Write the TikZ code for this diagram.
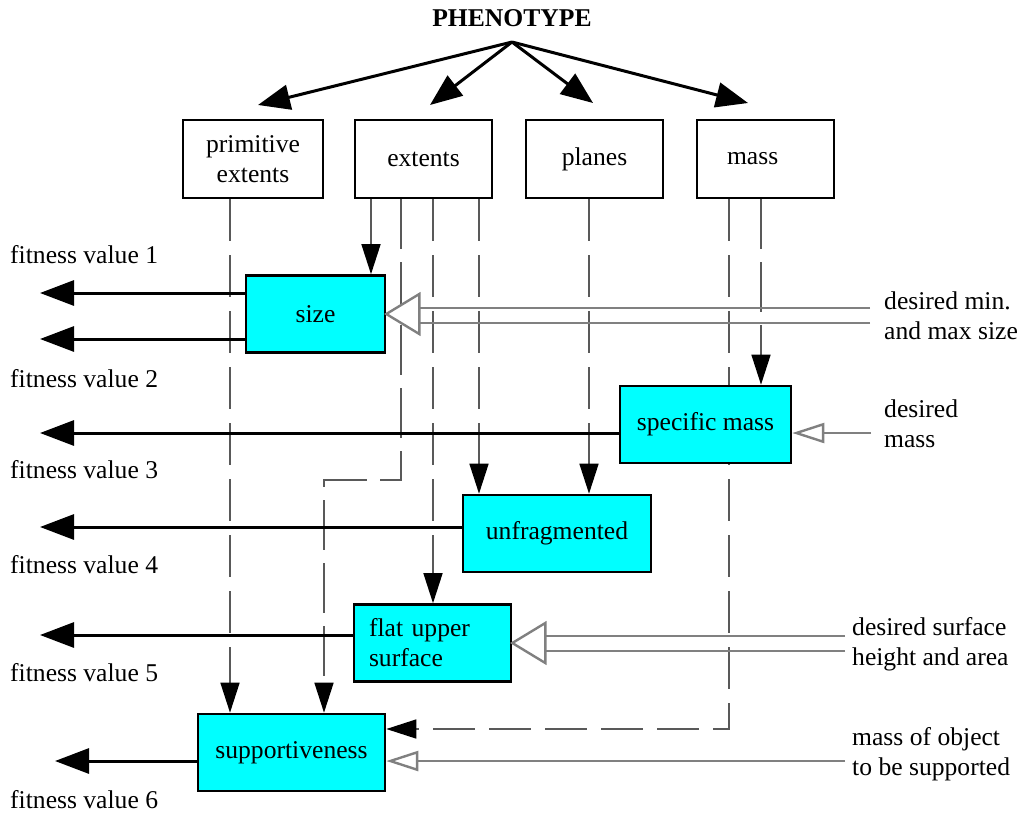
\documentclass[tikz,border=0pt]{standalone}
\usepackage{fontspec}
\setmainfont{Liberation Serif}
\usetikzlibrary{arrows.meta}
\definecolor{boxcyan}{HTML}{00FFFF}
\pgfdeclarelayer{background}
\pgfsetlayers{background,main}
\begin{document}
\begin{tikzpicture}[x=1pt,y=-1pt,
  every node/.style={font=\fontsize{25.6}{30}\selectfont, inner sep=0pt},
  feature/.style={draw, line width=2.6pt, fill=white, minimum height=78pt, align=center},
  testbox/.style={draw, line width=2.6pt, fill=boxcyan, minimum height=77pt, align=center},
  lbl/.style={anchor=west, align=left},
  branch/.style={line width=3pt, -{Triangle[length=32pt,width=25pt]}},
  result/.style={line width=3pt, -{Triangle[length=34pt,width=25pt]}},
  feed/.style={line width=1.5pt, black!65, -{Triangle[length=30pt,width=19pt,black]}},
  chain/.style={dash pattern=on 42pt off 14pt},
  longdash/.style={dash pattern=on 50pt off 13pt},
  input/.style={draw=gray, line width=2.4pt},
  opentip/.style={draw=gray, line width=2.4pt, fill=white, line join=miter},
  single/.style={draw=gray, line width=2.4pt, -{Triangle[open,length=32pt,width=20pt]}}
]
\useasboundingbox (0,0) rectangle (1024,814);

% phenotype root and decoded features
\node[font=\fontsize{25.6}{30}\selectfont\bfseries] (pheno) at (512,18) {PHENOTYPE};
\coordinate (apex) at (512,42);

\node[feature, minimum width=140pt] (prim)   at (253,159)   {primitive\\extents};
\node[feature, minimum width=137pt] (ext)    at (423.5,159) {extents};
\node[feature, minimum width=137pt] (planes) at (594.5,159) {planes};
\node[feature, minimum width=137pt, text width=77pt, inner xsep=30pt, align=left] (mass) at (765.5,159) {mass};

\coordinate (tPrim)   at (258,105);
\coordinate (tExt)    at (430,105);
\coordinate (tPlanes) at (593,103);
\coordinate (tMass)   at (748,103);
\draw[branch] (apex) -- (tPrim);
\draw[branch] (apex) -- (tExt);
\draw[branch] (apex) -- (tPlanes);
\draw[branch] (apex) -- (tMass);

% fitness tests
\node[testbox, minimum width=139pt] (size)     at (315.5,314)   {size};
\node[testbox, minimum width=171pt] (specmass) at (705.5,424.5) {specific mass};
\node[testbox, minimum width=188pt] (unfrag)   at (557,533.5)   {unfragmented};
\node[testbox, minimum width=157pt, text width=127pt, inner xsep=15pt, align=left] (flat) at (432.5,643) {flat upper\\surface};
\node[testbox, minimum width=187pt] (support)  at (291.5,752.5) {supportiveness};

% fitness outputs
\node[lbl] (fv1) at (10,255) {fitness value 1};
\node[lbl] (fv2) at (10,379) {fitness value 2};
\node[lbl] (fv3) at (10,470) {fitness value 3};
\node[lbl] (fv4) at (10,565) {fitness value 4};
\node[lbl] (fv5) at (10,673) {fitness value 5};
\node[lbl] (fv6) at (10,800) {fitness value 6};

\coordinate (o1) at (40,293);
\coordinate (o2) at (40,339);
\coordinate (o3) at (40,433);
\coordinate (o4) at (40,527);
\coordinate (o5) at (40,635);
\coordinate (o6) at (55,761);
\draw[result] (size.west |- o1) -- (o1);
\draw[result] (size.west |- o2) -- (o2);
\draw[result] (specmass.west |- o3) -- (o3);
\draw[result] (unfrag.west |- o4) -- (o4);
\draw[result] (flat.west |- o5) -- (o5);
\draw[result] (support.west |- o6) -- (o6);

% feature lines into the tests, kept behind the boxes
\coordinate (xA) at (371,0);
\coordinate (xB) at (401,0);
\coordinate (xC) at (433,0);
\coordinate (xD) at (479,0);
\coordinate (xE) at (589,0);
\coordinate (xF) at (729,0);
\coordinate (xG) at (761,0);
\coordinate (xP) at (230,0);
\coordinate (bendB) at (401,480);
\coordinate (bendQ) at (324,480);
\coordinate (bendF) at (729,729);

\begin{pgfonlayer}{background}
\draw[feed] (ext.south -| xA) -- (size.north -| xA);
\draw[feed, longdash] (ext.south -| xB) -- (bendB) -- (bendQ) -- (support.north -| bendQ);
\draw[feed, chain] (ext.south -| xC) -- (flat.north -| xC);
\draw[feed, chain] (ext.south -| xD) -- (unfrag.north -| xD);
\draw[feed, chain] (planes.south -| xE) -- (unfrag.north -| xE);
\draw[feed, chain] (mass.south -| xF) -- (bendF) -- (support.east |- bendF);
\draw[feed, longdash] (mass.south -| xG) -- (specmass.north -| xG);
\draw[feed, chain] (prim.south -| xP) -- (support.north -| xP);
\end{pgfonlayer}

% desired values
\node[lbl] (dsize) at (884,316) {desired min.\\and max size};
\node[lbl] (dmass) at (884,424) {desired\\mass};
\node[lbl] (dsurf) at (852,644) {desired surface\\height and area};
\node[lbl] (dload) at (852,754) {mass of object\\to be supported};

% min/max size: double input
\path (size.east) ++(33,0) coordinate (sizeBase);
\coordinate (sizeInA) at (870,308);
\coordinate (sizeInB) at (870,323);
\draw[input] (sizeInA) -- (sizeInA -| sizeBase);
\draw[input] (sizeInB) -- (sizeInB -| sizeBase);
\draw[opentip] (size.east) -- ([yshift=20pt]sizeBase) -- ([yshift=-20pt]sizeBase) -- cycle;

% desired mass: single input
\coordinate (massIn) at (871,433);
\draw[single] (massIn) -- (specmass.east |- massIn);

% surface height and area: double input
\path (flat.east) ++(33,0) coordinate (flatBase);
\coordinate (flatInA) at (845,636);
\coordinate (flatInB) at (845,651);
\draw[input] (flatInA) -- (flatInA -| flatBase);
\draw[input] (flatInB) -- (flatInB -| flatBase);
\draw[opentip] (flat.east) -- ([yshift=20pt]flatBase) -- ([yshift=-20pt]flatBase) -- cycle;

% load mass: single input
\coordinate (loadIn) at (845,761);
\draw[single] (loadIn) -- (support.east |- loadIn);
\end{tikzpicture}
\end{document}
